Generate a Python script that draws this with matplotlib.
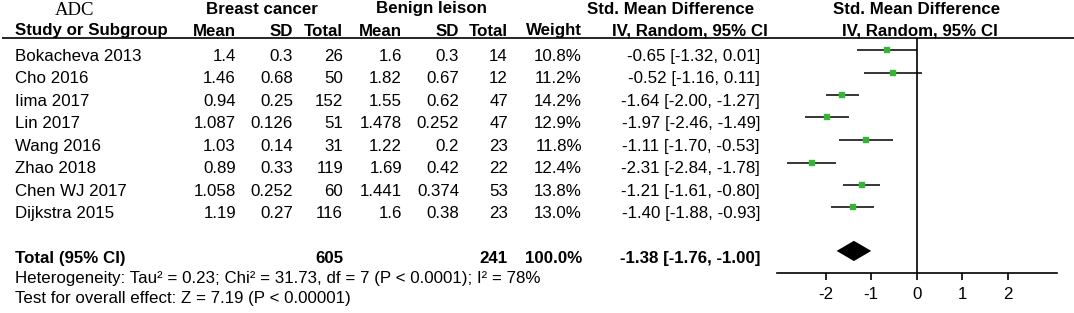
import matplotlib
matplotlib.use("Agg")
import matplotlib.pyplot as plt
import numpy as np

plt.rcParams['font.family'] = ['Liberation Sans', 'DejaVu Sans']
plt.rcParams['axes.unicode_minus'] = False

# ---------------- data ----------------
studies = ["Bokacheva 2013", "Cho 2016", "Iima 2017", "Lin 2017", "Wang 2016",
           "Zhao 2018", "Chen WJ 2017", "Dijkstra 2015"]
bc_mean = [1.4, 1.46, 0.94, 1.087, 1.03, 0.89, 1.058, 1.19]
bc_sd = [0.3, 0.68, 0.25, 0.126, 0.14, 0.33, 0.252, 0.27]
bc_n = [26, 50, 152, 51, 31, 119, 60, 116]
bn_mean = [1.6, 1.82, 1.55, 1.478, 1.22, 1.69, 1.441, 1.6]
bn_sd = [0.3, 0.67, 0.62, 0.252, 0.2, 0.42, 0.374, 0.38]
bn_n = [14, 12, 47, 47, 23, 22, 53, 23]
weight = [10.8, 11.2, 14.2, 12.9, 11.8, 12.4, 13.8, 13.0]
smd = [-0.65, -0.52, -1.64, -1.97, -1.11, -2.31, -1.21, -1.40]
ci_lo = [-1.32, -1.16, -2.00, -2.46, -1.70, -2.84, -1.61, -1.88]
ci_hi = [0.01, 0.11, -1.27, -1.49, -0.53, -1.78, -0.80, -0.93]
total_bc = 605
total_bn = 241
total_weight = 100.0
total_smd, total_lo, total_hi = -1.38, -1.76, -1.00
heterogeneity = "Heterogeneity: Tau² = 0.23; Chi² = 31.73, df = 7 (P < 0.0001); I² = 78%"
overall = "Test for overall effect: Z = 7.19 (P < 0.00001)"
xticks = [-2, -1, 0, 1, 2]

# ---------------- layout ----------------
W, H = 1074, 313
fig = plt.figure(figsize=(W / 100, H / 100), dpi=100)
ax0 = fig.add_axes([0, 0, 1, 1])
ax0.set_xlim(0, W)
ax0.set_ylim(H, 0)
ax0.axis('off')

FS = 12.15
row_base0 = 61.0
row_step = 22.45

def base(i):
    return row_base0 + row_step * i

col_right = [236, 293, 343, 402, 459, 508, 582, 760]
name_x = 15

# header
ax0.text(75, 15, "ADC", family='Liberation Serif', fontsize=13.5,
         ha='center', va='baseline')
ax0.text(262, 13.5, "Breast cancer", fontsize=FS, fontweight='bold', ha='center', va='baseline')
ax0.text(431, 13.5, "Benign leison", fontsize=FS, fontweight='bold', ha='center', va='baseline')
ax0.text(671, 13.5, "Std. Mean Difference", fontsize=FS, fontweight='bold', ha='center', va='baseline')
ax0.text(917, 13.5, "Std. Mean Difference", fontsize=FS, fontweight='bold', ha='center', va='baseline')

hdrs = ["Mean", "SD", "Total", "Mean", "SD", "Total", "Weight"]
ax0.text(name_x, 35.5, "Study or Subgroup", fontsize=FS, fontweight='bold', ha='left', va='baseline')
for h, x in zip(hdrs, col_right[:7]):
    ax0.text(x, 35.5, h, fontsize=FS, fontweight='bold', ha='right', va='baseline')
ax0.text(690, 35.5, "IV, Random, 95% CI", fontsize=FS, fontweight='bold', ha='center', va='baseline')
ax0.text(920, 35.5, "IV, Random, 95% CI", fontsize=FS, fontweight='bold', ha='center', va='baseline')
ax0.plot([2, W], [37.8, 37.8], color='black', lw=1.2, solid_capstyle='butt')

# rows
for i, s in enumerate(studies):
    y = base(i)
    vals = [str(bc_mean[i]), str(bc_sd[i]), str(bc_n[i]), str(bn_mean[i]), str(bn_sd[i]),
            str(bn_n[i]), f"{weight[i]:.1f}%",
            f"{smd[i]:.2f} [{ci_lo[i]:.2f}, {ci_hi[i]:.2f}]"]
    ax0.text(name_x, y, s, fontsize=FS, ha='left', va='baseline')
    for v, x in zip(vals, col_right):
        ax0.text(x, y, v, fontsize=FS, ha='right', va='baseline')

ty = base(9)
ax0.text(name_x, ty, "Total (95% CI)", fontsize=FS, fontweight='bold', ha='left', va='baseline')
ax0.text(col_right[2], ty, str(total_bc), fontsize=FS, fontweight='bold', ha='right', va='baseline')
ax0.text(col_right[5], ty, str(total_bn), fontsize=FS, fontweight='bold', ha='right', va='baseline')
ax0.text(col_right[6], ty, f"{total_weight:.1f}%", fontsize=FS, fontweight='bold', ha='right', va='baseline')
ax0.text(col_right[7], ty, f"{total_smd:.2f} [{total_lo:.2f}, {total_hi:.2f}]",
         fontsize=FS, fontweight='bold', ha='right', va='baseline')
ax0.text(name_x, 282.5, heterogeneity, fontsize=FS, ha='left', va='baseline')
ax0.text(name_x, 303.5, overall, fontsize=FS, ha='left', va='baseline')

# ---------------- forest panel ----------------
px_left, px_right = 776.7, 1056.7
px_top, px_bot = 37.8, 273.0
ax = fig.add_axes([px_left / W, 1 - px_bot / H, (px_right - px_left) / W, (px_bot - px_top) / H])
ax.patch.set_alpha(0)
sq0, sqstep = 50.0, 22.5
ax.set_ylim((px_bot - sq0) / sqstep, (px_top - sq0) / sqstep)
ax.set_xlim(-3.077, 3.077)
for sp in ['top', 'right', 'left']:
    ax.spines[sp].set_visible(False)
ax.spines['bottom'].set_linewidth(1.2)
ax.set_yticks([])
ax.set_xticks(xticks)
ax.set_xticklabels([str(t) for t in xticks])
ax.tick_params(axis='x', direction='out', length=5, width=1.2, labelsize=FS, pad=5)
ax.axvline(0, color='black', lw=1.2)

rows = np.arange(len(studies))
ax.hlines(rows, ci_lo, ci_hi, color='black', lw=1.1)
for r, m, w in zip(rows, smd, weight):
    ax.plot(m, r, marker='s', ms=5.3 * np.sqrt(w / 10.8) * 0.72 * 1.05,
            color='#33b533', mec='#4cc24c', mew=0.3, ls='none')

dr = 8.93
hh = 0.45
ax.fill([total_lo, total_smd, total_hi, total_smd], [dr, dr - hh, dr, dr + hh],
        color='black', lw=0)

fig.savefig("out.png", dpi=100)
